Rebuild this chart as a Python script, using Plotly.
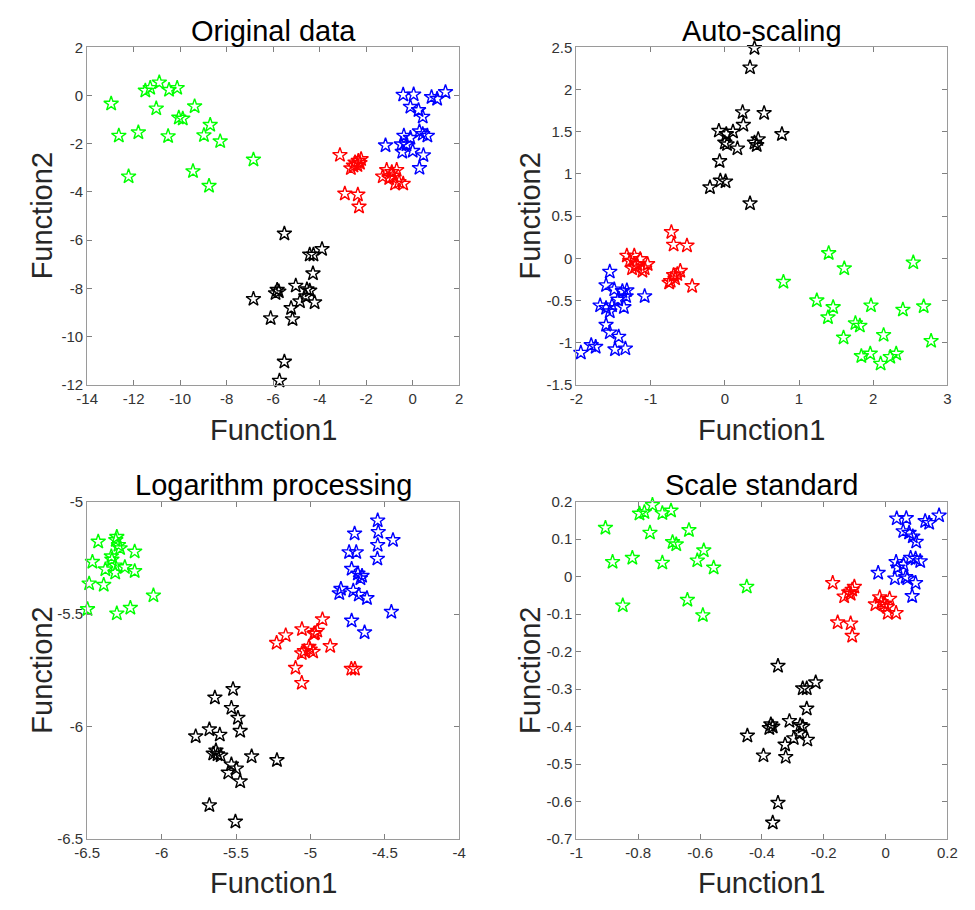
import plotly.graph_objects as go

# ---------------- Data ----------------
# Panel 1: Original data
orig_green_x = [-12.97, -12.64, -11.80, -12.22, -11.50, -11.29, -10.90, -11.03, -10.48, -10.13,
                -10.52, -10.06, -9.89, -9.38, -8.71, -8.98, -8.28, -9.45, -8.76, -6.85]
orig_green_y = [-0.34, -1.67, -1.53, -3.36, 0.20, 0.31, 0.54, -0.54, 0.23, 0.31,
                -1.69, -0.92, -0.96, -0.45, -1.22, -1.65, -1.90, -3.14, -3.75, -2.66]
orig_blue_x = [-0.41, 0.04, 0.81, 1.05, 1.41, -0.10, 0.25, 0.43, -1.17, -0.38,
               -0.10, -0.49, -0.45, 0.00, 0.29, 0.43, 0.63, 0.46, 0.29, -0.27]
orig_blue_y = [0.03, 0.04, -0.07, -0.14, 0.14, -0.47, -0.61, -0.88, -2.07, -1.67,
               -1.76, -2.03, -2.34, -2.30, -1.49, -1.60, -1.67, -2.48, -3.01, -2.03]
orig_red_x = [-3.13, -2.66, -2.48, -2.34, -2.22, -2.38, -2.92, -2.36, -2.31, -1.29,
              -1.12, -0.90, -0.69, -0.83, -0.76, -0.41, -1.01, -2.55, -2.27, -0.59]
orig_red_y = [-2.47, -3.02, -2.78, -2.71, -2.64, -2.89, -4.07, -4.11, -4.61, -3.36,
              -3.09, -3.18, -3.09, -3.32, -3.66, -3.66, -3.43, -2.91, -2.80, -3.59]
orig_black_x = [-5.52, -3.90, -4.43, -4.27, -4.29, -5.03, -5.83, -5.90, -5.76, -4.55,
                -4.43, -4.60, -4.85, -4.22, -6.85, -5.23, -6.11, -5.17, -5.52, -5.73]
orig_black_y = [-5.73, -6.37, -6.60, -6.60, -7.38, -7.89, -8.06, -8.20, -8.13, -8.04,
                -8.09, -8.33, -8.54, -8.58, -8.44, -8.82, -9.24, -9.28, -11.04, -11.83]

# Panel 2: Auto-scaling
auto_black_x = [0.40, 0.34, 0.24, 0.53, 0.25, -0.08, 0.02, 0.11, 0.00, 0.03,
                0.17, 0.40, 0.45, 0.43, 0.77, -0.07, -0.06, 0.01, -0.20, 0.34]
auto_black_y = [2.49, 2.26, 1.73, 1.72, 1.58, 1.51, 1.47, 1.50, 1.37, 1.35,
                1.30, 1.37, 1.41, 1.34, 1.47, 1.15, 0.92, 0.91, 0.84, 0.65]
auto_red_x = [-0.72, -0.69, -0.51, -1.32, -1.22, -1.25, -1.19, -1.11, -1.04, -0.60,
              -0.69, -0.73, -0.75, -0.44, -0.67, -1.08, -1.28, -1.14, -0.64, -1.21]
auto_red_y = [0.31, 0.16, 0.15, 0.03, 0.03, -0.12, -0.07, -0.15, -0.07, -0.15,
              -0.20, -0.27, -0.29, -0.33, -0.24, -0.12, -0.03, -0.01, -0.19, -0.10]
auto_blue_x = [-1.55, -1.60, -1.49, -1.38, -1.32, -1.33, -1.44, -1.36, -1.08, -1.68,
               -1.60, -1.55, -1.52, -1.60, -1.55, -1.43, -1.94, -1.80, -1.74, -1.48, -1.34]
auto_blue_y = [-0.16, -0.32, -0.37, -0.39, -0.38, -0.45, -0.49, -0.58, -0.45, -0.56,
               -0.59, -0.63, -0.56, -0.79, -0.88, -0.93, -1.12, -1.03, -1.05, -1.08, -1.07]
auto_green_x = [1.40, 1.61, 0.79, 1.24, 1.46, 1.39, 1.60, 1.97, 1.76, 1.82,
                2.14, 1.84, 1.96, 2.10, 2.23, 2.31, 2.40, 2.54, 2.68, 2.78]
auto_green_y = [0.06, -0.12, -0.28, -0.50, -0.58, -0.70, -0.94, -0.56, -0.77, -0.80,
                -0.91, -1.16, -1.13, -1.25, -1.17, -1.13, -0.61, -0.05, -0.57, -0.98]

# Panel 3: Logarithm processing
log_green_x = [-6.426, -6.301, -6.308, -6.279, -6.290, -6.181, -6.465, -6.338, -6.334, -6.378,
               -6.312, -6.247, -6.181, -6.487, -6.389, -6.055, -6.498, -6.301, -6.210, -6.312]
log_green_y = [-5.178, -5.157, -5.171, -5.207, -5.193, -5.222, -5.268, -5.243, -5.258, -5.301,
               -5.316, -5.291, -5.309, -5.364, -5.370, -5.417, -5.478, -5.497, -5.472, -5.284]
log_blue_x = [-4.548, -4.703, -4.544, -4.445, -4.548, -4.740, -4.692, -4.550, -4.723, -4.681,
              -4.664, -4.653, -4.795, -4.806, -4.712, -4.675, -4.620, -4.456, -4.723, -4.636]
log_blue_y = [-5.084, -5.142, -5.135, -5.171, -5.193, -5.225, -5.225, -5.254, -5.299, -5.320,
              -5.341, -5.330, -5.388, -5.407, -5.396, -5.414, -5.429, -5.490, -5.529, -5.581]
log_red_x = [-4.919, -5.057, -4.969, -4.954, -5.166, -5.227, -5.010, -5.058, -4.982, -4.867,
             -5.100, -5.058, -4.725, -4.701, -5.002, -4.976, -5.041]
log_red_y = [-5.523, -5.567, -5.584, -5.574, -5.594, -5.628, -5.645, -5.674, -5.667, -5.642,
             -5.739, -5.806, -5.743, -5.743, -5.657, -5.587, -5.664]
log_black_x = [-5.520, -5.642, -5.531, -5.487, -5.472, -5.679, -5.609, -5.771, -5.635, -5.624,
               -5.653, -5.603, -5.395, -5.225, -5.531, -5.498, -5.552, -5.472, -5.679, -5.504]
log_black_y = [-5.833, -5.871, -5.917, -5.961, -6.019, -6.012, -6.036, -6.043, -6.106, -6.123,
               -6.120, -6.128, -6.132, -6.149, -6.168, -6.186, -6.204, -6.243, -6.349, -6.422]

# Panel 4: Scale standard
std_green_x = [-0.906, -0.883, -0.819, -0.850, -0.796, -0.780, -0.754, -0.722, -0.694, -0.762,
               -0.689, -0.677, -0.722, -0.636, -0.588, -0.609, -0.556, -0.641, -0.591, -0.449]
std_green_y = [0.130, 0.039, 0.050, -0.077, 0.168, 0.172, 0.191, 0.169, 0.176, 0.117,
               0.092, 0.086, 0.037, 0.124, 0.070, 0.043, 0.024, -0.062, -0.103, -0.027]
std_blue_x = [0.036, 0.067, 0.057, 0.076, 0.088, 0.099, 0.128, 0.141, 0.173, -0.024,
              0.034, 0.039, 0.058, 0.081, 0.097, 0.112, 0.030, 0.065, 0.070, 0.097, 0.086]
std_blue_y = [0.155, 0.156, 0.121, 0.117, 0.107, 0.093, 0.148, 0.143, 0.163, 0.010,
              0.039, 0.024, 0.032, 0.050, 0.048, 0.041, -0.005, -0.001, -0.005, -0.017, -0.052]
std_red_x = [-0.171, -0.134, -0.119, -0.108, -0.101, -0.113, -0.155, -0.113, -0.108, -0.033,
             -0.019, -0.003, 0.013, 0.005, 0.007, 0.034, -0.014]
std_red_y = [-0.017, -0.053, -0.042, -0.035, -0.027, -0.046, -0.122, -0.125, -0.158, -0.074,
             -0.055, -0.072, -0.059, -0.081, -0.097, -0.097, -0.068]
std_black_x = [-0.348, -0.226, -0.268, -0.255, -0.255, -0.311, -0.371, -0.376, -0.365, -0.276,
               -0.268, -0.278, -0.297, -0.253, -0.447, -0.325, -0.395, -0.323, -0.348, -0.365]
std_black_y = [-0.238, -0.282, -0.298, -0.298, -0.352, -0.385, -0.394, -0.404, -0.400, -0.396,
               -0.400, -0.417, -0.431, -0.435, -0.424, -0.448, -0.477, -0.481, -0.603, -0.656]

titles = ["Original data", "Auto-scaling", "Logarithm processing", "Scale standard"]

x1_ticks = [-14, -12, -10, -8, -6, -4, -2, 0, 2]
y1_ticks = [2, 0, -2, -4, -6, -8, -10, -12]
x2_ticks = [-2, -1, 0, 1, 2, 3]
y2_ticks = [2.5, 2, 1.5, 1, 0.5, 0, -0.5, -1, -1.5]
x3_ticks = [-6.5, -6, -5.5, -5, -4.5, -4]
y3_ticks = [-5, -5.5, -6, -6.5]
x4_ticks = [-1, -0.8, -0.6, -0.4, -0.2, 0, 0.2]
y4_ticks = [0.2, 0.1, 0, -0.1, -0.2, -0.3, -0.4, -0.5, -0.6, -0.7]

# ---------------- Figure ----------------
W, H = 975, 910
GREEN, BLUE, RED, BLACK = "#00FF00", "#0000FF", "#FF0000", "#000000"

fig = go.Figure()

panels = [
    ("x", "y", [(orig_green_x, orig_green_y, GREEN), (orig_blue_x, orig_blue_y, BLUE),
                (orig_red_x, orig_red_y, RED), (orig_black_x, orig_black_y, BLACK)]),
    ("x2", "y2", [(auto_black_x, auto_black_y, BLACK), (auto_red_x, auto_red_y, RED),
                  (auto_blue_x, auto_blue_y, BLUE), (auto_green_x, auto_green_y, GREEN)]),
    ("x3", "y3", [(log_green_x, log_green_y, GREEN), (log_blue_x, log_blue_y, BLUE),
                  (log_red_x, log_red_y, RED), (log_black_x, log_black_y, BLACK)]),
    ("x4", "y4", [(std_green_x, std_green_y, GREEN), (std_blue_x, std_blue_y, BLUE),
                  (std_red_x, std_red_y, RED), (std_black_x, std_black_y, BLACK)]),
]
for xa, ya, series in panels:
    for xs, ys, col in series:
        fig.add_trace(go.Scatter(
            x=xs, y=ys, mode="markers", xaxis=xa, yaxis=ya, cliponaxis=False,
            marker=dict(symbol="star-open", size=11, color=col, line=dict(width=1.4, color=col)),
            showlegend=False, hoverinfo="x+y"))

def fmt(v):
    return "%g" % v

def axis(domain, rng, ticks, anchor):
    return dict(domain=domain, range=rng, tickvals=ticks, ticktext=[fmt(t) for t in ticks],
                ticks="inside", ticklen=5, tickcolor="#808080", tickwidth=1,
                showline=True, linecolor="#9a9a9a", linewidth=1, mirror="ticks",
                showgrid=False, zeroline=False, anchor=anchor,
                tickfont=dict(family="Liberation Sans, Arial, sans-serif", size=15, color="#333333"))

colL = [76 / W, 457 / W]
colR = [577 / W, 957 / W]
rowT = [(H - 383) / H, (H - 39) / H]
rowB = [(H - 846) / H, (H - 502) / H]

fig.update_layout(
    width=W, height=H, margin=dict(l=0, r=0, t=0, b=0),
    paper_bgcolor="white", plot_bgcolor="white", showlegend=False,
    xaxis=axis(colL, [-14, 2], x1_ticks, "y"),
    yaxis=axis(rowT, [-12, 2], y1_ticks, "x"),
    xaxis2=axis(colR, [-2, 3], x2_ticks, "y2"),
    yaxis2=axis(rowT, [-1.5, 2.5], y2_ticks, "x2"),
    xaxis3=axis(colL, [-6.5, -4], x3_ticks, "y3"),
    yaxis3=axis(rowB, [-6.5, -5], y3_ticks, "x3"),
    xaxis4=axis(colR, [-1, 0.2], x4_ticks, "y4"),
    yaxis4=axis(rowB, [-0.7, 0.2], y4_ticks, "x4"),
)

FONT = "Liberation Sans, Arial, sans-serif"
ann = []
centers_x = [(76 + 457) / 2, (577 + 957) / 2]
title_y = [22, 485]
xlab_y = [429, 891]
ylab_x = [30, 530]
ylab_y = [(39 + 383) / 2, (502 + 846) / 2]
for i, t in enumerate(titles):
    r, c = divmod(i, 2)
    ann.append(dict(text=t, x=centers_x[c] / W, y=1 - title_y[r] / H, xref="paper", yref="paper",
                    xanchor="center", yanchor="middle", showarrow=False,
                    font=dict(family=FONT, size=29, color="#000000")))
    ann.append(dict(text="Function1", x=centers_x[c] / W, y=1 - xlab_y[r] / H, xref="paper", yref="paper",
                    xanchor="center", yanchor="middle", showarrow=False,
                    font=dict(family=FONT, size=29, color="#262626")))
    ann.append(dict(text="Function2", x=ylab_x[c] / W, y=1 - ylab_y[r] / H, xref="paper", yref="paper",
                    xanchor="center", yanchor="middle", showarrow=False, textangle=-90,
                    font=dict(family=FONT, size=29, color="#262626")))
fig.update_layout(annotations=ann)

fig.write_html("out.html")
